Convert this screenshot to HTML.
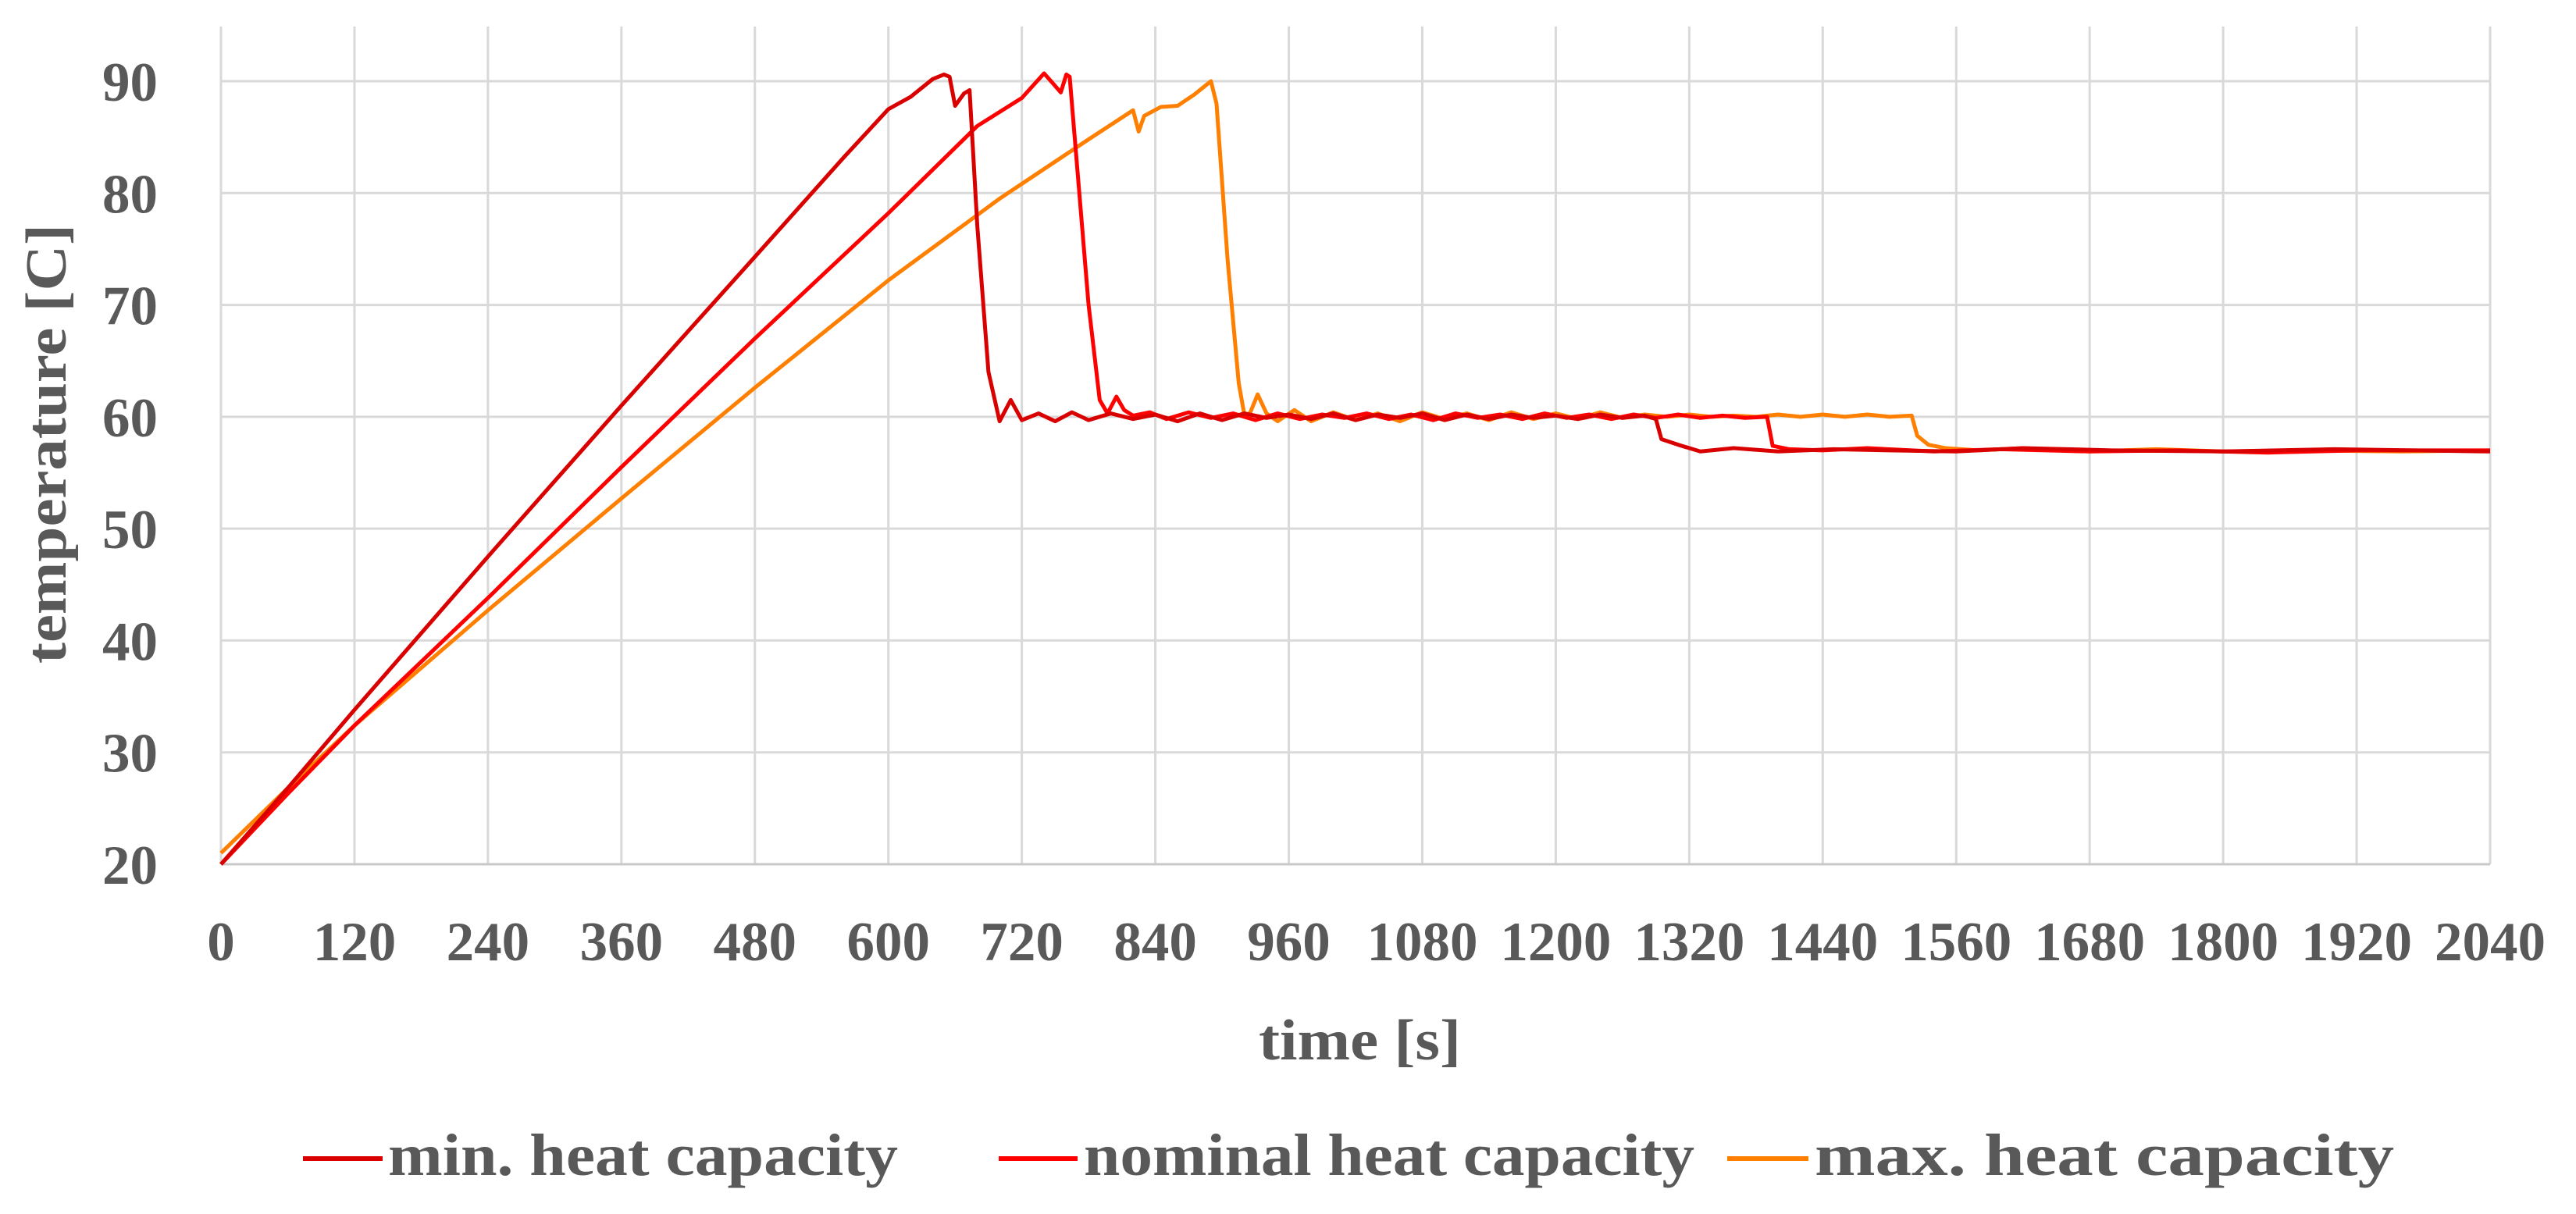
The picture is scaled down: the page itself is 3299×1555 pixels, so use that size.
<!DOCTYPE html>
<html><head><meta charset="utf-8"><style>
html,body{margin:0;padding:0;background:#fff;}
svg text{font-family:"Liberation Serif",serif;font-weight:bold;fill:#595959;}
</style></head><body>
<svg id="chart" width="3299" height="1550" viewBox="0 0 3299 1550" xmlns="http://www.w3.org/2000/svg">
<g id="grid"></g>
<g id="series"></g>
<g id="ticks"></g>
<text x="1612" y="1357" font-size="74" textLength="259" lengthAdjust="spacingAndGlyphs">time [s]</text>
<text transform="translate(84,850) rotate(-90)" font-size="74" textLength="563" lengthAdjust="spacingAndGlyphs">temperature [C]</text>
<g>
<line x1="388" y1="1484" x2="490" y2="1484" stroke="#D90000" stroke-width="6"/>
<text x="497" y="1505" font-size="76" textLength="653" lengthAdjust="spacingAndGlyphs">min. heat capacity</text>
<line x1="1279" y1="1484" x2="1380" y2="1484" stroke="#FF0000" stroke-width="6"/>
<text x="1388" y="1505" font-size="76" textLength="782" lengthAdjust="spacingAndGlyphs">nominal heat capacity</text>
<line x1="2212" y1="1484" x2="2316" y2="1484" stroke="#FF7F00" stroke-width="6"/>
<text x="2324" y="1505" font-size="76" textLength="742" lengthAdjust="spacingAndGlyphs">max. heat capacity</text>
</g>
</svg>
<script>
const xTicks=[0,120,240,360,480,600,720,840,960,1080,1200,1320,1440,1560,1680,1800,1920,2040];
const yTicks=[20,30,40,50,60,70,80,90];
const minT=[0,60,120,240,360,480,560,600,620,640,650,655,660,668,673,680,690,700,710,720,735,750,765,780,800,820,840,860,880,900,920,940,960,980,1000,1020,1040,1060,1080,1100,1120,1140,1160,1180,1200,1220,1240,1260,1280,1290,1295,1310,1330,1360,1400,1450,1500,1560,1620,1700,1800,1900,2040];
const minV=[20,26.8,33.8,47.5,61,74.3,83.2,87.5,88.6,90.2,90.6,90.4,87.8,88.9,89.2,77,64,59.6,61.5,59.7,60.3,59.6,60.4,59.7,60.3,59.8,60.2,59.6,60.3,59.7,60.3,59.9,60.2,59.8,60.3,59.7,60.2,59.9,60.3,59.7,60.2,59.8,60.2,59.9,60.1,59.8,60.2,59.9,60.1,59.8,58,57.5,56.9,57.2,56.9,57.1,57,56.9,57.2,57,56.9,57.1,56.9];
const nomT=[0,60,120,240,360,480,600,680,720,740,748,755,760,763,770,780,790,797,805,812,820,835,850,870,890,910,930,950,970,990,1010,1030,1050,1070,1090,1110,1130,1150,1170,1190,1210,1230,1250,1270,1290,1310,1330,1350,1370,1390,1395,1410,1440,1480,1540,1600,1680,1760,1840,1920,2040];
const nomV=[20,26.3,32.4,43.8,55.5,67,78.2,86,88.5,90.7,89.8,89,90.6,90.4,82,70,61.5,60.3,61.8,60.6,60.1,60.4,59.8,60.4,59.9,60.3,59.7,60.3,59.8,60.2,59.9,60.3,59.8,60.2,59.7,60.3,59.9,60.2,59.8,60.3,59.9,60.2,59.8,60.2,59.9,60.2,59.9,60.1,59.9,60,57.4,57.1,57,57.2,56.9,57.1,56.9,57,56.8,57,57];
const maxT=[0,60,120,240,360,480,600,700,780,820,825,830,845,860,875,890,895,905,915,920,925,932,940,950,965,980,1000,1020,1040,1060,1080,1100,1120,1140,1160,1180,1200,1220,1240,1260,1280,1300,1320,1340,1360,1380,1400,1420,1440,1460,1480,1500,1520,1525,1535,1550,1580,1620,1680,1740,1800,1880,1960,2040];
const maxV=[21,26.8,32.4,42.7,52.7,62.6,72.2,79.5,84.8,87.4,85.5,86.9,87.7,87.8,88.8,90,88,74,63,60.2,60.3,62,60.3,59.6,60.6,59.6,60.4,59.7,60.3,59.6,60.4,59.8,60.3,59.7,60.4,59.8,60.3,59.8,60.4,59.9,60.2,60,60.2,60,60.1,60,60.2,60,60.2,60,60.2,60,60.1,58.3,57.5,57.2,57,57.2,56.9,57.1,56.9,57,56.9,57];
const X0=283,X1=3189,Y0=1107,Y1=104;
function xs(t){return X0+(t-0)/(2040-0)*(X1-X0);}
function ys(v){return Y0-(v-20)/(90-20)*(Y0-Y1);}
const NS="http://www.w3.org/2000/svg";
const grid=document.getElementById('grid'),ticks=document.getElementById('ticks'),ser=document.getElementById('series');
xTicks.forEach(t=>{
  const l=document.createElementNS(NS,'line');
  
  
  l.setAttribute('x1',xs(t));l.setAttribute('x2',xs(t));l.setAttribute('y1',Y1-70);l.setAttribute('y2',Y0);
  l.setAttribute('stroke','#d9d9d9');l.setAttribute('stroke-width','3');grid.appendChild(l);
  const tx=document.createElementNS(NS,'text');
  
  
  tx.setAttribute('x',xs(t));tx.setAttribute('y',1230);tx.setAttribute('font-size','71');tx.setAttribute('text-anchor','middle');
  tx.textContent=t;ticks.appendChild(tx);
});
yTicks.forEach(v=>{
  const l=document.createElementNS(NS,'line');
  
  
  l.setAttribute('x1',X0);l.setAttribute('x2',X1);l.setAttribute('y1',ys(v));l.setAttribute('y2',ys(v));
  l.setAttribute('stroke',v===20?'#c8c8c8':'#d9d9d9');l.setAttribute('stroke-width','3');grid.appendChild(l);
  const tx=document.createElementNS(NS,'text');
  
  
  tx.setAttribute('x',202);tx.setAttribute('y',ys(v)+25);tx.setAttribute('font-size','71');tx.setAttribute('text-anchor','end');
  tx.textContent=v;ticks.appendChild(tx);
});
function draw(T,V,color,name){
  const p=document.createElementNS(NS,'polyline');
  
  
  p.setAttribute('points',T.map((t,i)=>xs(t)+','+ys(V[i])).join(' '));
  p.setAttribute('fill','none');p.setAttribute('stroke',color);p.setAttribute('stroke-width','5');p.setAttribute('stroke-linejoin','round');
  ser.appendChild(p);
}
draw(maxT,maxV,'#FF7F00','line-max-heat-capacity');
draw(nomT,nomV,'#FF0000','line-nominal-heat-capacity');
draw(minT,minV,'#D90000','line-min-heat-capacity');
</script>
</body></html>
